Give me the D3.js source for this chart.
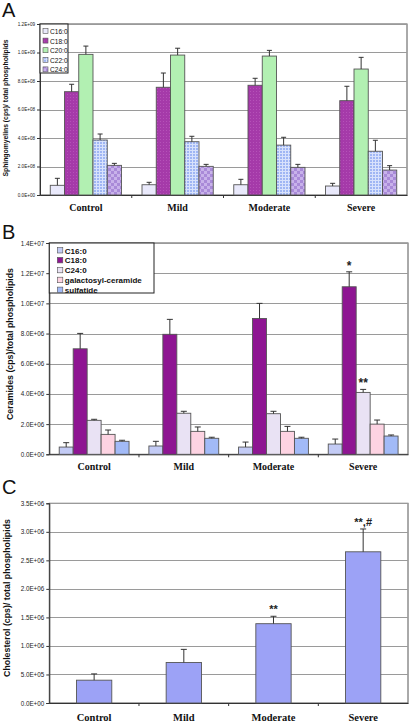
<!DOCTYPE html>
<html><head><meta charset="utf-8">
<script src="https://cdn.jsdelivr.net/npm/d3@7"></script>
<style>
html,body{margin:0;padding:0;background:#fff;}
svg{display:block;font-family:"Liberation Sans",Arial,sans-serif;}
</style></head>
<body>
<svg id="chart" width="410" height="723"></svg>
<script>
// ---------- DATA ----------
const categories = ["Control", "Mild", "Moderate", "Severe"];

// Panel A: Sphingomyelins
const smSeries = ["C16:0", "C18:0", "C20:0", "C22:0", "C24:0"];
const smC16 = [0.68e8, 0.72e8, 0.72e8, 0.63e8];
const smC18 = [7.25e8, 7.56e8, 7.70e8, 6.62e8];
const smC20 = [9.87e8, 9.82e8, 9.75e8, 8.84e8];
const smC22 = [3.86e8, 3.74e8, 3.50e8, 3.07e8];
const smC24 = [2.08e8, 2.01e8, 1.94e8, 1.75e8];
const smC16Err = [0.49e8, 0.17e8, 0.38e8, 0.19e8];
const smC18Err = [0.52e8, 1.00e8, 0.49e8, 1.01e8];
const smC20Err = [0.58e8, 0.48e8, 0.40e8, 0.82e8];
const smC22Err = [0.42e8, 0.38e8, 0.55e8, 0.77e8];
const smC24Err = [0.14e8, 0.14e8, 0.21e8, 0.31e8];
const smTicks = [0, 2e8, 4e8, 6e8, 8e8, 1.0e9, 1.2e9];

// Panel B: Ceramides
const cerSeries = ["C16:0", "C18:0", "C24:0", "galactosyl-ceramide", "sulfatide"];
const cerC16 = [0.48e6, 0.55e6, 0.48e6, 0.68e6];
const cerC18 = [6.99e6, 7.95e6, 9.00e6, 11.1e6];
const cerC24 = [2.25e6, 2.72e6, 2.69e6, 4.10e6];
const cerGal = [1.32e6, 1.52e6, 1.52e6, 2.00e6];
const cerSulf = [0.86e6, 1.06e6, 1.06e6, 1.21e6];
const cerC16Err = [0.29e6, 0.31e6, 0.33e6, 0.33e6];
const cerC18Err = [1.02e6, 0.99e6, 1.00e6, 0.99e6];
const cerC24Err = [0.07e6, 0.13e6, 0.16e6, 0.20e6];
const cerGalErr = [0.29e6, 0.29e6, 0.33e6, 0.27e6];
const cerSulfErr = [0.07e6, 0.07e6, 0.07e6, 0.07e6];
const cerTicks = [0, 2e6, 4e6, 6e6, 8e6, 1.0e7, 1.2e7, 1.4e7];
const cerMarks = [
  {category: "Severe", series: "C18:0", label: "*"},
  {category: "Severe", series: "C24:0", label: "**"}
];

// Panel C: Cholesterol
const cholSeries = ["Cholesterol"];
const cholValues = [0.40e6, 0.71e6, 1.39e6, 2.65e6];
const cholErr = [0.11e6, 0.23e6, 0.13e6, 0.40e6];
const cholTicks = [0, 5e5, 1.0e6, 1.5e6, 2.0e6, 2.5e6, 3.0e6, 3.5e6];
const cholMarks = [
  {category: "Moderate", series: "Cholesterol", label: "**"},
  {category: "Severe", series: "Cholesterol", label: "**,#"}
];

// ---------- HELPERS ----------
function fmtE(v) {
  if (v === 0) return "0.0E+00";
  const [m, e] = v.toExponential(1).split("e");
  const n = +e;
  return m + "E" + (n < 0 ? "-" : "+") + String(Math.abs(n)).padStart(2, "0");
}

const SANS = "'Liberation Sans', Arial, sans-serif";
const SERIF = "'Liberation Serif', 'Times New Roman', serif";

const svg = d3.select("#chart");
const defs = svg.append("defs");

// patterns for panel A
const pGrid = defs.append("pattern").attr("id", "pGrid").attr("patternUnits", "userSpaceOnUse")
  .attr("width", 3).attr("height", 3);
pGrid.append("rect").attr("width", 3).attr("height", 3).attr("fill", "#9fb6f4");
pGrid.append("path").attr("d", "M0,0.5H3M0.5,0V3").attr("stroke", "#d8e2fc").attr("stroke-width", 1);

const pCheck = defs.append("pattern").attr("id", "pCheck").attr("patternUnits", "userSpaceOnUse")
  .attr("width", 6).attr("height", 6);
pCheck.append("rect").attr("width", 6).attr("height", 6).attr("fill", "#c8b2ea");
pCheck.append("rect").attr("width", 3).attr("height", 3).attr("fill", "#a98ad8");
pCheck.append("rect").attr("x", 3).attr("y", 3).attr("width", 3).attr("height", 3).attr("fill", "#a98ad8");

const pDots = defs.append("pattern").attr("id", "pDots").attr("patternUnits", "userSpaceOnUse")
  .attr("width", 3).attr("height", 3);
pDots.append("rect").attr("width", 3).attr("height", 3).attr("fill", "#a53aa9");
pDots.append("rect").attr("x", 1).attr("y", 1).attr("width", 1).attr("height", 1).attr("fill", "#b552b8");

function drawPanel(cfg) {
  const g = svg.append("g");
  const y = d3.scaleLinear().domain([0, cfg.ticks[cfg.ticks.length - 1]]).range([cfg.bottom, cfg.top]);
  const x0 = d3.scaleBand().domain(categories).range([cfg.left, cfg.right]);
  const x1 = d3.scaleBand().domain(cfg.series).range([0, x0.bandwidth()])
    .paddingInner(0).paddingOuter(cfg.pad);

  // plot frame
  g.append("rect").attr("x", cfg.left).attr("y", cfg.top)
    .attr("width", cfg.right - cfg.left).attr("height", cfg.bottom - cfg.top)
    .attr("fill", "#fff").attr("stroke", "#555").attr("stroke-width", 1);

  // gridlines
  g.selectAll(".grid").data(cfg.ticks.filter(t => t > 0)).join("line")
    .attr("x1", cfg.left).attr("x2", cfg.right)
    .attr("y1", d => Math.round(y(d)) + 0.5).attr("y2", d => Math.round(y(d)) + 0.5)
    .attr("stroke", "#9a9a9a").attr("stroke-width", 1);

  // y axis
  const ya = g.append("g").attr("transform", `translate(${cfg.left},0)`)
    .call(d3.axisLeft(y).tickValues(cfg.ticks).tickFormat(fmtE).tickSize(3).tickPadding(2));
  ya.select(".domain").attr("stroke", "#333");
  ya.selectAll(".tick line").attr("stroke", "#333");
  ya.selectAll(".tick text").style("font-size", cfg.tickFont + "px")
    .style("font-family", SANS).attr("fill", "#222");

  // x axis
  const xa = g.append("g").attr("transform", `translate(0,${cfg.bottom})`)
    .call(d3.axisBottom(x0).tickSize(0).tickFormat(""));
  xa.select(".domain").attr("stroke", "#333");
  g.selectAll(".xtick").data(categories.slice(1)).join("line")
    .attr("x1", d => x0(d)).attr("x2", d => x0(d))
    .attr("y1", cfg.bottom).attr("y2", cfg.bottom + 3)
    .attr("stroke", "#333");

  // bars
  const rows = [];
  cfg.series.forEach((s, si) => {
    categories.forEach((c, ci) => {
      rows.push({s, c, v: cfg.values[si][ci], e: cfg.errors[si][ci], fill: cfg.fills[si]});
    });
  });
  const bw = x1.bandwidth();
  g.selectAll(".bar").data(rows).join("rect")
    .attr("x", d => x0(d.c) + x1(d.s))
    .attr("y", d => y(d.v))
    .attr("width", bw)
    .attr("height", d => cfg.bottom - y(d.v))
    .attr("fill", d => d.fill)
    .attr("stroke", "#555").attr("stroke-width", 0.9);

  // error bars (upper only)
  const cap = cfg.cap;
  const eg = g.selectAll(".err").data(rows).join("g");
  eg.append("line")
    .attr("x1", d => x0(d.c) + x1(d.s) + bw / 2).attr("x2", d => x0(d.c) + x1(d.s) + bw / 2)
    .attr("y1", d => y(d.v)).attr("y2", d => y(d.v + d.e))
    .attr("stroke", "#333").attr("stroke-width", 1);
  eg.append("line")
    .attr("x1", d => x0(d.c) + x1(d.s) + bw / 2 - cap).attr("x2", d => x0(d.c) + x1(d.s) + bw / 2 + cap)
    .attr("y1", d => y(d.v + d.e)).attr("y2", d => y(d.v + d.e))
    .attr("stroke", "#333").attr("stroke-width", 1);

  // significance marks
  if (cfg.marks) {
    g.selectAll(".mark").data(cfg.marks).join("text")
      .attr("x", d => x0(d.category) + x1(d.series) + bw / 2)
      .attr("y", d => {
        const si = cfg.series.indexOf(d.series), ci = categories.indexOf(d.category);
        return y(cfg.values[si][ci] + cfg.errors[si][ci]) - cfg.markGap;
      })
      .attr("text-anchor", "middle")
      .style("font-family", SANS).style("font-size", cfg.markFont + "px")
      .style("font-weight", "bold").attr("fill", "#222")
      .text(d => d.label);
  }

  // category labels
  g.selectAll(".cat").data(categories).join("text")
    .attr("x", d => x0(d) + x0.bandwidth() / 2)
    .attr("y", cfg.catY)
    .attr("text-anchor", "middle")
    .style("font-family", SERIF)
    .style("font-weight", "bold").style("font-size", cfg.catFont + "px").attr("fill", "#111")
    .text(d => d);

  // y label
  g.append("text")
    .attr("transform", `translate(${cfg.ylabelX},${cfg.ylabelY}) rotate(-90)`)
    .attr("text-anchor", "middle")
    .style("font-family", SANS).style("font-weight", "bold")
    .style("font-size", cfg.ylabelFont + "px").attr("fill", "#111")
    .text(cfg.ylabel);

  // panel letter
  g.append("text").attr("x", 2).attr("y", cfg.letterY)
    .style("font-family", SANS).style("font-size", "20px").attr("fill", "#111").text(cfg.letter);

  // legend
  if (cfg.legend) {
    const L = cfg.legend;
    const lg = g.append("g");
    lg.append("rect").attr("x", L.x).attr("y", L.y).attr("width", L.w).attr("height", L.h)
      .attr("fill", "#fff").attr("stroke", "#222").attr("stroke-width", 1);
    const items = lg.selectAll(".li").data(cfg.series).join("g")
      .attr("transform", (d, i) => `translate(${L.x + L.sx},${L.y + L.y0 + i * L.dy})`);
    items.append("rect").attr("x", 0).attr("y", -L.sw + 0.5).attr("width", L.sw).attr("height", L.sw)
      .attr("fill", (d, i) => cfg.fills[i]).attr("stroke", "#555").attr("stroke-width", 0.6);
    items.append("text").attr("x", L.sw + 2).attr("y", 1)
      .style("font-family", SANS).style("font-size", L.font + "px")
      .style("font-weight", L.bold ? "bold" : "normal")
      .attr("fill", "#111").text(d => d);
  }
}

// ---------- PANEL A ----------
drawPanel({
  letter: "A", letterY: 17,
  left: 40, right: 407, top: 24, bottom: 195,
  ticks: smTicks, tickFont: 4.6,
  series: smSeries,
  values: [smC16, smC18, smC20, smC22, smC24],
  errors: [smC16Err, smC18Err, smC20Err, smC22Err, smC24Err],
  fills: ["#e9e9fb", "url(#pDots)", "#b2f0b2", "url(#pGrid)", "url(#pCheck)"],
  pad: 0.72, cap: 2.5,
  catY: 211, catFont: 10,
  ylabel: "Sphingomyelins (cps)/ total phospholipids", ylabelX: 8, ylabelY: 108, ylabelFont: 6.8,
  legend: {x: 40, y: 24, w: 28, h: 49, sx: 3, y0: 9, dy: 9.6, sw: 5, font: 6.6, bold: false}
});

// ---------- PANEL B ----------
drawPanel({
  letter: "B", letterY: 239,
  left: 49.3, right: 408, top: 243, bottom: 454.3,
  ticks: cerTicks, tickFont: 6.3,
  series: cerSeries,
  values: [cerC16, cerC18, cerC24, cerGal, cerSulf],
  errors: [cerC16Err, cerC18Err, cerC24Err, cerGalErr, cerSulfErr],
  fills: ["#c3cbf5", "#8e1592", "#e9e2f4", "#fdd3e2", "#a2baf7"],
  pad: 0.71, cap: 3,
  marks: cerMarks, markFont: 12, markGap: 2,
  catY: 470, catFont: 10,
  ylabel: "Ceramides (cps)/total phospholipids", ylabelX: 13, ylabelY: 344, ylabelFont: 8.8,
  legend: {x: 49.3, y: 243, w: 104.7, h: 50, sx: 8, y0: 9.5, dy: 9.9, sw: 5.5, font: 8, bold: true}
});

// ---------- PANEL C ----------
drawPanel({
  letter: "C", letterY: 494,
  left: 49.3, right: 408, top: 503.3, bottom: 703,
  ticks: cholTicks, tickFont: 6.3,
  series: cholSeries,
  values: [cholValues],
  errors: [cholErr],
  fills: ["#9ca2f6"],
  pad: 0.77, cap: 3,
  marks: cholMarks, markFont: 11, markGap: 3,
  catY: 721, catFont: 10.5,
  ylabel: "Cholesterol (cps)/ total phospholipids", ylabelX: 10, ylabelY: 598, ylabelFont: 8.8
});
</script>
</body></html>
